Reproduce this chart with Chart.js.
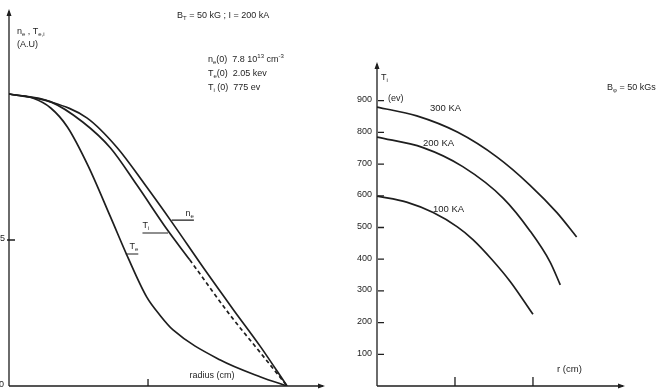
<!DOCTYPE html>
<html>
<head>
<meta charset="utf-8">
<script src="https://cdn.jsdelivr.net/npm/chart.js@4.4.1/dist/chart.umd.min.js"></script>
<style>
  body { margin: 0; background: #fff; width: 656px; height: 389px; overflow: hidden; position: relative; }
  canvas { position: absolute; top: 0; }
  #left { left: 0; }
  #right { left: 330px; }
</style>
</head>
<body>
<canvas id="left" width="330" height="389"></canvas>
<canvas id="right" width="326" height="389"></canvas>
<script>
// Left panel: normalised profiles vs radius
const teRadius = [0, 0.17, 0.30, 0.42, 0.57, 0.73, 0.86, 0.99, 1.09, 1.18, 1.52, 1.81, 2.0];
const teValues = [1.0, 0.986, 0.952, 0.887, 0.753, 0.579, 0.435, 0.305, 0.240, 0.192, 0.089, 0.031, 0.0];
const tiRadius = [0, 0.30, 0.53, 0.73, 0.92, 1.14, 1.30, 1.59, 1.81, 2.0];
const tiValues = [1.0, 0.973, 0.904, 0.815, 0.688, 0.534, 0.432, 0.243, 0.113, 0.0];
const neRadius = [0, 0.30, 0.56, 0.78, 0.98, 1.17, 1.41, 1.61, 1.81, 2.0];
const neValues = [1.0, 0.973, 0.918, 0.815, 0.688, 0.562, 0.397, 0.264, 0.134, 0.0];

// Right panel: Ti (eV) vs r for three plasma currents
const r300 = [0, 0.51, 1.03, 1.54, 1.96, 2.31, 2.56];
const ti300 = [880, 852, 801, 722, 634, 546, 470];
const r200 = [0, 0.59, 1.10, 1.62, 1.96, 2.22, 2.35];
const ti200 = [785, 752, 692, 592, 490, 391, 319];
const r100 = [0, 0.38, 0.72, 1.03, 1.23, 1.47, 1.71, 2.0];
const ti100 = [599, 580, 547, 502, 462, 400, 329, 226];
const tiTicks = [100, 200, 300, 400, 500, 600, 700, 800, 900];

const INK = '#1e1e1e';
const FONT = '"Liberation Sans", Arial, sans-serif';

function pts(xs, ys) {
  return xs.map((x, i) => ({ x: x, y: ys[i] }));
}

function lineSet(data, extra) {
  return Object.assign({
    data: data,
    borderColor: INK,
    borderWidth: 1.7,
    pointRadius: 0,
    cubicInterpolationMode: 'monotone',
    fill: false
  }, extra || {});
}

// text with sub/superscripts: parts = [[text, 'n'|'sub'|'sup'], ...]
function rich(ctx, x, y, parts, size, align) {
  const fontFor = m => (m === 'n' ? size : Math.round(size * 0.72)) + 'px ' + FONT;
  let w = 0;
  parts.forEach(p => { ctx.font = fontFor(p[1]); w += ctx.measureText(p[0]).width; });
  let cx = align === 'center' ? x - w / 2 : align === 'right' ? x - w : x;
  ctx.textAlign = 'left';
  ctx.textBaseline = 'middle';
  ctx.fillStyle = INK;
  parts.forEach(p => {
    ctx.font = fontFor(p[1]);
    const dy = p[1] === 'sub' ? size * 0.3 : p[1] === 'sup' ? -size * 0.38 : 0;
    ctx.fillText(p[0], cx, y + dy);
    cx += ctx.measureText(p[0]).width;
  });
}

function arrow(ctx, x, y, dir) {
  ctx.beginPath();
  if (dir === 'up') { ctx.moveTo(x, y); ctx.lineTo(x - 2.5, y + 7); ctx.lineTo(x + 2.5, y + 7); }
  else { ctx.moveTo(x, y); ctx.lineTo(x - 7, y - 2.5); ctx.lineTo(x - 7, y + 2.5); }
  ctx.closePath();
  ctx.fill();
}

function drawAxes(chart, xTicks, yTicks, yTickLabels, tickLen, yTickStyle) {
  const ctx = chart.ctx, a = chart.chartArea;
  const xs = chart.scales.x, ys = chart.scales.y;
  const x0 = xs.getPixelForValue(0), y0 = ys.getPixelForValue(0);
  ctx.save();
  ctx.strokeStyle = INK; ctx.fillStyle = INK; ctx.lineWidth = 1.3;
  ctx.beginPath();
  ctx.moveTo(x0, y0); ctx.lineTo(x0, a.top + 2);
  ctx.moveTo(x0, y0); ctx.lineTo(a.right - 2, y0);
  ctx.stroke();
  arrow(ctx, x0, a.top, 'up');
  arrow(ctx, a.right, y0, 'right');
  ctx.beginPath();
  xTicks.forEach(v => {
    const px = xs.getPixelForValue(v);
    ctx.moveTo(px, y0); ctx.lineTo(px, y0 - tickLen);
  });
  yTicks.forEach(v => {
    const py = ys.getPixelForValue(v);
    if (yTickStyle === 'cross') { ctx.moveTo(x0 - 2, py); ctx.lineTo(x0 + 6, py); }
    else { ctx.moveTo(x0 + 1, py); ctx.lineTo(x0 + 7, py); }
  });
  ctx.stroke();
  yTicks.forEach((v, i) => {
    rich(ctx, x0 - (yTickStyle === 'cross' ? 4 : 5), ys.getPixelForValue(v) - 1, [[yTickLabels[i], 'n']], 9, 'right');
  });
  ctx.restore();
}

// ---------- left chart ----------
const leftDecor = {
  id: 'leftDecor',
  afterDraw(chart) {
    const ctx = chart.ctx, xs = chart.scales.x, ys = chart.scales.y;
    drawAxes(chart, [1], [0.5], ['5'], 7, 'cross');
    rich(ctx, 4, 385, [['0', 'n']], 9, 'right');
    // leader lines to curve labels
    ctx.save();
    ctx.strokeStyle = INK; ctx.lineWidth = 1.1;
    const leaders = [[1.17, 1.33, 0.568], [0.96, 1.144, 0.524], [0.84, 0.93, 0.452]];
    ctx.beginPath();
    leaders.forEach(l => {
      ctx.moveTo(xs.getPixelForValue(l[0]), ys.getPixelForValue(l[2]));
      ctx.lineTo(xs.getPixelForValue(l[1]), ys.getPixelForValue(l[2]));
    });
    ctx.stroke();
    ctx.restore();
    rich(ctx, xs.getPixelForValue(1.33), ys.getPixelForValue(0.590), [['n', 'n'], ['e', 'sub']], 9, 'right');
    rich(ctx, xs.getPixelForValue(0.96), ys.getPixelForValue(0.548), [['T', 'n'], ['i', 'sub']], 9, 'left');
    rich(ctx, xs.getPixelForValue(0.93), ys.getPixelForValue(0.476), [['T', 'n'], ['e', 'sub']], 9, 'right');

    rich(ctx, 177, 16, [['B', 'n'], ['T', 'sub'], [' = 50 kG ; I = 200 kA', 'n']], 9, 'left');
    rich(ctx, 17, 32, [['n', 'n'], ['e', 'sub'], [' , T', 'n'], ['e,i', 'sub']], 9, 'left');
    rich(ctx, 17, 45, [['(A.U)', 'n']], 9, 'left');
    rich(ctx, 208, 60, [['n', 'n'], ['e', 'sub'], ['(0)  7.8 10', 'n'], ['13', 'sup'], [' cm', 'n'], ['-3', 'sup']], 9, 'left');
    rich(ctx, 208, 74, [['T', 'n'], ['e', 'sub'], ['(0)  2.05 kev', 'n']], 9, 'left');
    rich(ctx, 208, 88, [['T', 'n'], ['i', 'sub'], [' (0)  775 ev', 'n']], 9, 'left');
    rich(ctx, 212, 376, [['radius (cm)', 'n']], 9, 'center');
  }
};

new Chart(document.getElementById('left'), {
  type: 'line',
  data: {
    datasets: [
      lineSet(pts(teRadius, teValues)),
      lineSet(pts(tiRadius, tiValues), {
        segment: { borderDash: c => (c.p0.parsed.x >= 1.29 ? [4, 3] : undefined) }
      }),
      lineSet(pts(neRadius, neValues))
    ]
  },
  options: {
    responsive: false,
    animation: false,
    layout: { padding: { left: 9, right: 5, top: 9, bottom: 3 } },
    plugins: { legend: { display: false }, tooltip: { enabled: false } },
    scales: {
      x: { type: 'linear', min: 0, max: 2.273, display: false },
      y: { type: 'linear', min: 0, max: 1.291, display: false }
    }
  },
  plugins: [leftDecor]
});

// ---------- right chart ----------
const rightDecor = {
  id: 'rightDecor',
  afterDraw(chart) {
    const ctx = chart.ctx;
    drawAxes(chart, [1, 2], tiTicks, tiTicks.map(String), 9, 'inside');
    rich(ctx, 51, 78, [['T', 'n'], ['i', 'sub']], 9, 'left');
    rich(ctx, 58, 99, [['(ev)', 'n']], 9, 'left');
    rich(ctx, 100, 108, [['300 KA', 'n']], 9.5, 'left');
    rich(ctx, 93, 143, [['200 KA', 'n']], 9.5, 'left');
    rich(ctx, 103, 209, [['100 KA', 'n']], 9.5, 'left');
    rich(ctx, 277, 88, [['B', 'n'], ['φ', 'sub'], [' = 50 kGs', 'n']], 9, 'left');
    rich(ctx, 227, 369, [['r (cm)', 'n']], 9.5, 'left');
  }
};

new Chart(document.getElementById('right'), {
  type: 'line',
  data: {
    datasets: [
      lineSet(pts(r300, ti300)),
      lineSet(pts(r200, ti200)),
      lineSet(pts(r100, ti100))
    ]
  },
  options: {
    responsive: false,
    animation: false,
    layout: { padding: { left: 47, right: 31, top: 62, bottom: 3 } },
    plugins: { legend: { display: false }, tooltip: { enabled: false } },
    scales: {
      x: { type: 'linear', min: 0, max: 3.18, display: false },
      y: { type: 'linear', min: 0, max: 1022, display: false }
    }
  },
  plugins: [rightDecor]
});
</script>
</body>
</html>
